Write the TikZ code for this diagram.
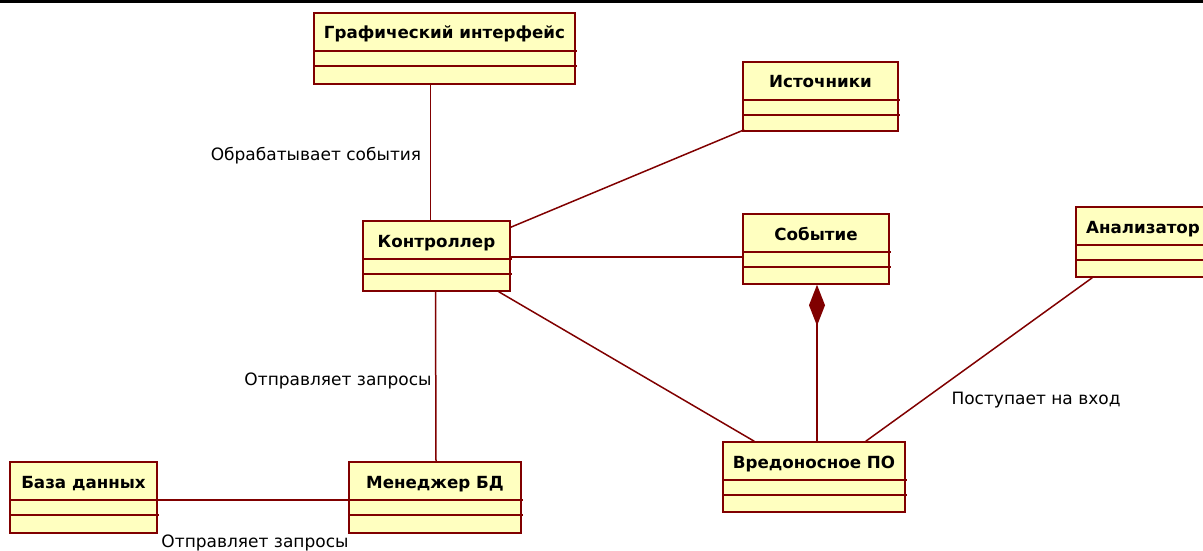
\documentclass[tikz,border=0pt]{standalone}
\usepackage{fontspec}
\setmainfont{DejaVu Sans}
\usetikzlibrary{arrows.meta,calc}
\definecolor{umlred}{RGB}{128,0,0}
\definecolor{umlfill}{RGB}{255,255,192}
\tikzset{
 cls/.style={draw=umlred,fill=umlfill,line width=1.5pt,inner sep=0pt},
 sep/.style={draw=umlred,line width=1.5pt},
 ttl/.style={font=\bfseries\fontsize{16.7}{19}\selectfont,inner sep=0pt},
 lbl/.style={font=\fontsize{17}{19}\selectfont,inner sep=0pt},
 conn/.style={draw=umlred,line width=1.5pt}
}
\newcommand\umlclass[6]{%
  \node[cls,minimum width={(#4)-(#2)},minimum height={(#5)-(#3)}] (#1) at ({((#2)+(#4))/2},{((#3)+(#5))/2}) {};
  \draw[sep] (#2,{(#3)+38}) -- ({(#4)+2},{(#3)+38});
  \draw[sep] (#2,{(#3)+53}) -- ({(#4)+2},{(#3)+53});
  \node[ttl,anchor=base] (#1-t) at ({((#2)+(#4))/2},{(#3)+26}) {#6};
}
\begin{document}
\begin{tikzpicture}[x=1pt,y=-1pt]
\useasboundingbox (0,0) rectangle (1203,551);
\clip (0,0) rectangle (1203,551);
\fill[black] (0,0) rectangle (1203,3);

\umlclass{gui}{314}{13}{575}{84}{Графический интерфейс}
\umlclass{src}{743}{62}{898}{131}{Источники}
\umlclass{ctrl}{363}{221}{510}{291}{Контроллер}
\umlclass{ev}{743}{214}{889}{284}{Событие}
\umlclass{anl}{1076}{207}{1210}{277}{Анализатор}
\umlclass{db}{10}{462}{157}{533}{База данных}
\umlclass{mgr}{349}{462}{521}{533}{Менеджер БД}
\umlclass{mal}{723}{442}{905}{512}{Вредоносное ПО}

% connectors
\draw[conn] ([xshift=-14pt]gui.south) -- ([xshift=-6pt]ctrl.north);
\draw[conn] ([yshift=-7pt]ctrl.north east) -- ([xshift=2pt,yshift=2pt]src.south west);
\draw[conn] ([yshift=35pt]ctrl.south east) -- ([yshift=28pt]ev.south west);
\draw[conn] ([xshift=-12pt]ctrl.south east) -- ([xshift=32pt]mal.north west);
\draw[conn] ([xshift=-1pt]ctrl.south) -- ([xshift=1pt]mgr.north);
\draw[conn,{Diamond[length=41pt,width=16pt,fill=umlred]}-] ([xshift=1pt]ev.south) -- ([xshift=3pt]mal.north);
\draw[conn] ([xshift=17pt]anl.south west) -- ([xshift=-40pt]mal.north east);
\draw[conn] ([yshift=34pt]db.south east) -- ([yshift=34pt]mgr.south west);

% labels
\node[lbl] (l1) at (316,156) {Обрабатывает события};
\node[lbl] (l2) at (338,381) {Отправляет запросы};
\node[lbl] (l3) at (1036,400) {Поступает на вход};
\node[lbl] (l4) at (255,543) {Отправляет запросы};
\end{tikzpicture}
\end{document}
